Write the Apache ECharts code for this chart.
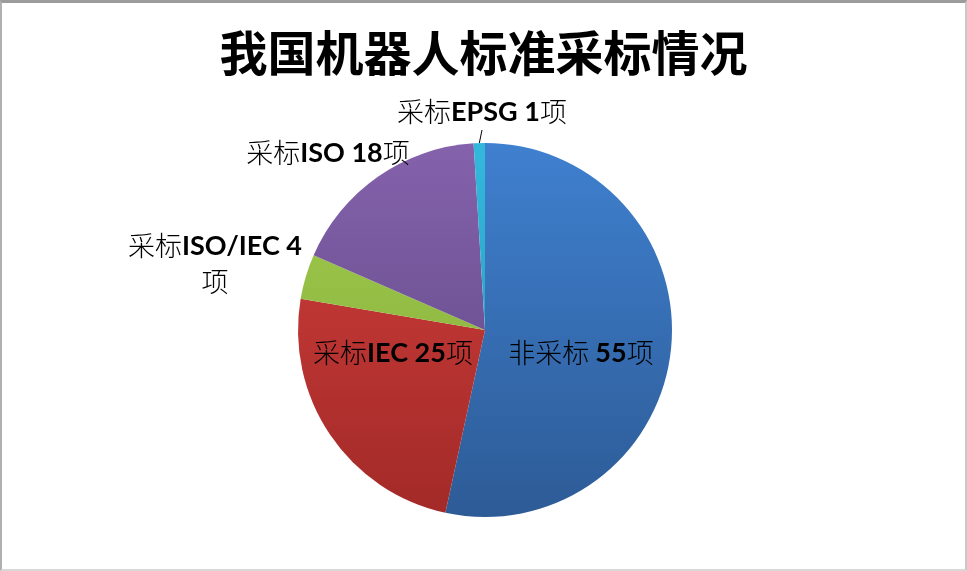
<!DOCTYPE html>
<html>
<head>
<meta charset="utf-8">
<script src="https://cdn.jsdelivr.net/npm/echarts@6/dist/echarts.min.js"></script>
<style>
    html, body { margin: 0; padding: 0; background: #fff; }
    #frame { position: absolute; left: 0; top: 0; width: 967px; height: 571px; box-sizing: border-box;
        border-top: 3px solid #9c9c9c; border-left: 2px solid #b0b0b0; border-right: 2px solid #c8c8c8; border-bottom: 2px solid #d8d8d8; pointer-events: none; z-index: 2; }
    #chart { position: absolute; left: 0; top: 0; width: 967px; height: 571px; }
</style>
</head>
<body>
<div id="chart"></div>
<div id="frame"></div>
<script>
    // 数据
    const names = ['非采标', '采标IEC', '采标ISO/IEC', '采标ISO', '采标EPSG'];
    const values = [55, 25, 4, 18, 1];
    const topColors = ['#3f80cf', '#d33f3c', '#a0cc4e', '#8462ac', '#33b8dc'];
    const bottomColors = ['#2d5b96', '#a22a28', '#84aa38', '#5c4480', '#2596b8'];
    // 标签位置(中心点)
    const labelPos = [[581, 353], [393, 353], [215, 264], [328, 153], [482, 112]];

    let myChart = echarts.init(document.getElementById('chart'));

    function labelText(i) {
        const n = names[i];
        if (i === 0) return '{c|非采标 }{b|' + values[i] + '}{c|项}';
        if (i === 2) return '{c|采标}{b|ISO/IEC ' + values[i] + '}\n{c|项}';
        return '{c|采标}{b|' + n.replace('采标', '') + ' ' + values[i] + '}{c|项}';
    }

    const data = names.map(function (n, i) {
        return {
            name: n,
            value: values[i],
            itemStyle: {
                color: new echarts.graphic.LinearGradient(0, 143, 0, 517, [
                    {offset: 0, color: topColors[i]},
                    {offset: 1, color: bottomColors[i]}
                ], true)
            },
            label: {formatter: labelText(i)},
            labelLine: {show: i === 4, length: 6, length2: 0}
        };
    });

    const option = {
        title: {
            text: '我国机器人标准采标情况',
            left: 'center',
            top: 24,
            textStyle: {
                fontFamily: 'Noto Sans CJK SC',
                fontWeight: 'bold',
                fontSize: 48,
                color: '#000'
            }
        },
        series: [{
            type: 'pie',
            center: [485, 330],
            radius: 187,
            startAngle: 90,
            clockwise: true,
            data: data,
            label: {
                show: true,
                position: 'outside',
                align: 'center',
                lineHeight: 36,
                rich: {
                    c: {fontFamily: 'Noto Sans CJK SC', fontWeight: 300, fontSize: 27, color: '#000', lineHeight: 36},
                    b: {fontFamily: 'Lato', fontWeight: 'bold', fontSize: 27, color: '#000', lineHeight: 36}
                }
            },
            labelLine: {lineStyle: {color: '#000', width: 1}},
            labelLayout: function (params) {
                const p = labelPos[params.dataIndex];
                return {x: p[0], y: p[1], align: 'center', verticalAlign: 'middle', moveOverlap: false, hideOverlap: false};
            },
            emphasis: {disabled: true},
            animation: false
        }]
    };
    myChart.setOption(option);
</script>
</body>
</html>
